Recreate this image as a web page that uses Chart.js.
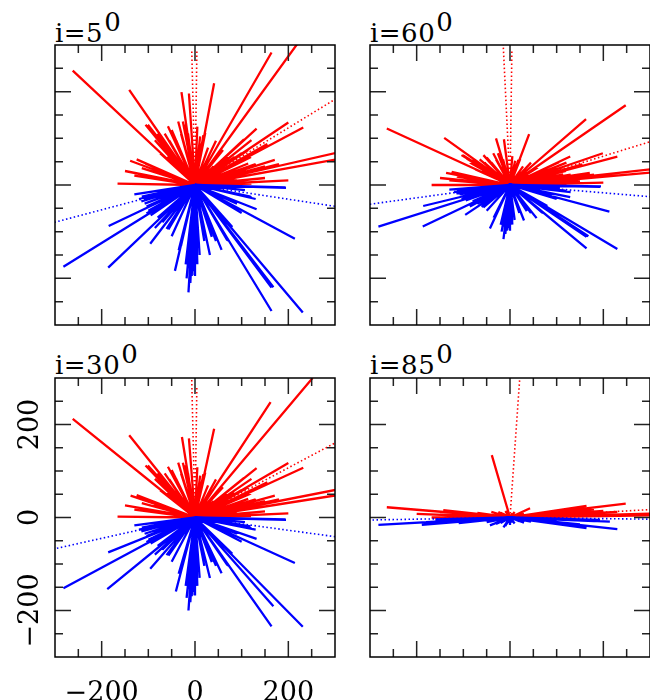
<!DOCTYPE html>
<html>
<head>
<meta charset="utf-8">
<script src="https://cdn.jsdelivr.net/npm/chart.js@4.4.1/dist/chart.umd.min.js"></script>
<style>
html, body { margin: 0; padding: 0; background: #fff; overflow: hidden; }
body { width: 650px; height: 700px; position: relative; }
.box { position: absolute; }
.ttl { position: absolute; font-family: "DejaVu Serif", serif; font-size: 26px; line-height: 26px;
       color: #000; letter-spacing: 0.5px; white-space: nowrap; }
.ttl span { position: relative; top: -11px; margin-left: 1px; }
</style>
</head>
<body>
<div class="ttl" style="left:55px;top:20px">i=5<span>0</span></div>
<div class="ttl" style="left:370px;top:20px">i=60<span>0</span></div>
<div class="ttl" style="left:55px;top:352px">i=30<span>0</span></div>
<div class="ttl" style="left:370px;top:352px">i=85<span>0</span></div>

<div class="box" style="left:50px;top:40px;width:290px;height:290px"><canvas id="p5"></canvas></div>
<div class="box" style="left:365px;top:40px;width:290px;height:290px"><canvas id="p60"></canvas></div>
<div class="box" style="left:0px;top:373px;width:340px;height:327px"><canvas id="p30"></canvas></div>
<div class="box" style="left:365px;top:373px;width:290px;height:289px"><canvas id="p85"></canvas></div>

<script>
// axis ticks (same on every panel)
var tickValues = [-250, -200, -150, -100, -50, 0, 50, 100, 150, 200, 250];
var labelTicks = [-200, 0, 200];

// end points of the rays, i = 5 deg
var red5 = [[-262,245],[-141,204],[-29,199],[-13,196],[41,218],[164,284],[248,342],
  [200,134],[232,123],[132,121],[121,96],[114,75],[100,68],[171,54],[114,46],[129,32],[93,25],[96,30],
  [330,75],[330,60],[-139,52],[-107,46],[-114,36],[-166,3],[121,3],[60,3],
  [-106,129],[-93,114],[-101,129],[-86,96],[-75,68],[-58,126],[-46,104],[-36,136],[-26,136],
  [18,107],[22,112],[11,104],[-60,60],[-90,30],[70,60],[105,98],[40,40],
  [-80,110],[-70,95],[-50,118],[-40,95],[-20,130],[-15,110],[5,125],[28,80],[45,95],[60,75],
  [85,60],[140,75],[155,88],[120,60],[180,45],[-125,55],[-150,30],[-130,20],[-100,20],[150,15],
  [200,10],[90,15],[150,40],[110,30],[130,45],[80,25],[-65,110],[-55,95],[-30,110],[10,90]];
var redDot5 = [[-7,291],[4,286],[335,205]];
var blue5 = [[194,-5],[195,-6],[121,-26],[119,-25],[132,-52],[214,-115],[-282,-175],[-186,-177],
  [-185,-88],[-96,-126],[-86,-92],[-61,-94],[-57,-95],[-43,-184],[-14,-230],[-1,-193],[0,-195],
  [-14,-178],[-11,-161],[-8,-150],[32,-150],[57,-139],[69,-118],[71,-120],[164,-220],[168,-219],
  [164,-270],[231,-273],[-114,-25],[-110,-30],[-104,-46],[-104,-61],[-90,-50],[-80,-70],
  [107,-11],[36,-111],[-30,-130],[20,-120],
  [-120,-30],[-115,-35],[-108,-40],[-100,-55],[-95,-65],[-70,-80],[-50,-110],[-35,-140],
  [-20,-170],[-18,-200],[-10,-210],[-5,-175],[5,-170],[10,-150],[45,-120],[60,-100],[80,-90],
  [100,-60],[90,-40],[130,-30],[-60,-40],[-130,-20],[-4,-185],[-7,-195]];
var blueDot5 = [[335,-51],[-335,-89]];

// i = 60 deg
var red60 = [[-264,121],[-141,101],[-30,100],[-13,98],[41,109],[163,141],[248,171],
  [199,68],[230,61],[129,61],[121,48],[114,38],[100,34],[171,26],[114,23],[129,16],[93,13],[96,15],
  [330,37],[330,29],[-137,26],[-107,23],[-114,18],[-168,0],[121,0],[60,1],
  [-104,64],[-93,57],[-101,64],[-86,48],[-75,34],[-57,64],[-46,52],[-36,68],[-26,68],
  [18,54],[22,56],[11,52],[-60,30],[-90,15],[70,30],[105,49],[40,20],
  [-80,55],[-70,48],[-50,59],[-40,48],[-20,65],[-15,55],[5,62],[28,40],[45,48],[60,38],
  [85,30],[140,38],[155,44],[120,30],[180,22],[-125,28],[-150,15],[-130,10],[-100,10],[150,8],
  [200,5],[90,8],[150,20],[110,15],[130,22],[80,12],[-65,55],[-55,48],[-30,55],[10,45]];
var redDot60 = [[-16,330],[4,286],[330,102]];
var blue60 = [[193,-4],[195,-3],[121,-13],[119,-12],[129,-26],[213,-57],[-282,-89],[-187,-89],
  [-186,-45],[-96,-64],[-86,-46],[-61,-47],[-57,-48],[-43,-93],[-14,-116],[-1,-96],[0,-98],
  [-14,-89],[-11,-80],[-8,-75],[30,-76],[57,-71],[69,-59],[71,-60],[164,-111],[168,-110],
  [164,-136],[230,-137],[-114,-12],[-110,-15],[-104,-25],[-104,-31],[-90,-25],[-80,-35],
  [107,-6],[36,-56],[-30,-65],[20,-60],
  [-120,-15],[-115,-18],[-108,-20],[-100,-28],[-95,-33],[-70,-40],[-50,-55],[-35,-70],
  [-20,-85],[-18,-100],[-10,-105],[-5,-88],[5,-85],[10,-75],[45,-60],[60,-50],[80,-45],
  [100,-30],[90,-20],[130,-15],[-60,-20],[-130,-10],[-4,-92],[-7,-98]];
var blueDot60 = [[335,-28],[-335,-46]];

// i = 30 deg
var red30 = [[-262,212],[-141,177],[-28,173],[-13,170],[41,191],[162,248],[252,300],
  [200,117],[232,107],[132,106],[121,83],[114,65],[100,59],[171,47],[114,40],[129,28],[93,22],[96,26],
  [330,65],[330,52],[-138,47],[-107,40],[-114,31],[-166,2],[120,3],[60,3],
  [-106,112],[-93,99],[-101,112],[-86,83],[-75,59],[-58,109],[-46,90],[-36,118],[-26,118],
  [18,93],[22,97],[11,90],[-60,52],[-90,26],[70,52],[105,85],[40,35],
  [-80,95],[-70,82],[-50,102],[-40,82],[-20,113],[-15,95],[5,108],[28,69],[45,82],[60,65],
  [85,52],[140,65],[155,76],[120,52],[180,39],[-125,48],[-150,26],[-130,17],[-100,17],[150,13],
  [200,9],[90,13],[150,35],[110,26],[130,39],[80,22],[-65,95],[-55,82],[-30,95],[10,78]];
var redDot30 = [[-7,296],[4,284],[335,179]];
var blue30 = [[194,-4],[195,-5],[121,-23],[119,-19],[132,-46],[214,-98],[-282,-152],[-188,-154],
  [-186,-75],[-96,-110],[-86,-80],[-61,-81],[-57,-82],[-41,-159],[-14,-200],[-1,-167],[0,-168],
  [-14,-154],[-11,-139],[-8,-130],[32,-130],[57,-120],[69,-102],[71,-104],[168,-191],[164,-234],
  [231,-235],[-114,-22],[-110,-26],[-104,-40],[-104,-53],[-90,-43],[-80,-61],[107,-10],
  [36,-96],[-30,-113],[20,-104],
  [-120,-26],[-115,-30],[-108,-35],[-100,-48],[-95,-56],[-70,-69],[-50,-95],[-35,-121],
  [-20,-147],[-18,-173],[-10,-182],[-5,-152],[5,-147],[10,-130],[45,-104],[60,-87],[80,-78],
  [100,-52],[90,-35],[130,-26],[-60,-35],[-130,-17],[-4,-160],[-7,-169]];
var blueDot30 = [[335,-46],[-335,-75]];

// i = 85 deg
var red85 = [[-39,134],[-264,22],[-141,15],[-143,16],[-168,0],[-120,12],[-100,10],[-60,8],[-40,12],
  [-20,10],[-10,14],[10,12],[43,20],[30,8],[80,10],[121,4],[164,25],[248,30],[200,14],[230,12],
  [330,9],[-80,6],[-30,5],[60,5],
  [-200,8],[-150,6],[-110,4],[-70,10],[-50,6],[-25,12],[-15,8],[-5,11],[5,9],[15,6],[25,10],
  [50,8],[100,14],[140,10],[180,18],[120,8],[90,4],[-130,2],[-90,3],[330,5]];
var redDot85 = [[23,330],[335,19]];
var blue85 = [[-282,-16],[-189,-16],[-150,-12],[-100,-10],[-43,-17],[-14,-21],[-20,-12],[-8,-15],
  [5,-10],[20,-8],[60,-6],[100,-8],[164,-23],[230,-25],[214,-9],[193,-5],[140,-6],[-120,-6],[-60,-5],
  [-180,-10],[-140,-8],[-110,-12],[-80,-8],[-50,-10],[-30,-14],[-10,-18],[-4,-12],[0,-16],[10,-13],
  [30,-11],[45,-9],[80,-10],[120,-12],[150,-15],[180,-8],[-160,-4],[-90,-3]];
var blueDot85 = [[-335,-6],[335,-4]];

Chart.defaults.animation = false;

function rays(ends){
    var data = [];
    for(var e of ends){
        data.push({x: 0, y: 0});
        data.push({x: e[0], y: e[1]});
        data.push({x: e[0], y: null});
    }
    return data;
}

// box round the plot and inward ticks, placed with the chart's own scales
var frame = {
    id: 'frame',
    afterDatasetsDraw: function(chart){
        var ctx = chart.ctx, a = chart.chartArea;
        var xs = chart.scales.x, ys = chart.scales.y;
        ctx.save();
        ctx.strokeStyle = '#222';
        ctx.lineWidth = 1.5;
        ctx.beginPath();
        for(var v of tickValues){
            var len = labelTicks.indexOf(v) >= 0 ? 16 : 8;
            var px = xs.getPixelForValue(v), py = ys.getPixelForValue(v);
            ctx.moveTo(px, a.bottom); ctx.lineTo(px, a.bottom - len);
            ctx.moveTo(px, a.top); ctx.lineTo(px, a.top + len);
            ctx.moveTo(a.left, py); ctx.lineTo(a.left + len, py);
            ctx.moveTo(a.right, py); ctx.lineTo(a.right - len, py);
        }
        ctx.stroke();
        ctx.strokeStyle = '#000';
        ctx.strokeRect(a.left, a.top, a.right - a.left, a.bottom - a.top);
        ctx.restore();
    }
};

function minus(v){
    return labelTicks.indexOf(v) >= 0 ? String(v).replace('-', '\u2212') : null;
}

function makePanel(id, red, redDot, blue, blueDot, labelled){
    function set(ends, colour, dotted){
        return {
            data: rays(ends),
            borderColor: colour,
            borderWidth: dotted ? 1.6 : 2.3,
            borderDash: dotted ? [1.5, 2.5] : [],
            showLine: true,
            spanGaps: false,
            pointRadius: 0,
            tension: 0
        };
    }
    var font = {family: '"DejaVu Serif", serif', size: 27};
    var x = {type: 'linear', min: -300, max: 300, display: false};
    var y = {type: 'linear', min: -300, max: 300, display: false};
    var padding = {top: 5, right: 5, bottom: 5, left: 5};
    if(labelled){
        x = {type: 'linear', min: -300, max: 300,
             grid: {display: false}, border: {display: false},
             ticks: {stepSize: 100, callback: minus, font: font, color: '#000', padding: 13,
                     autoSkip: false, maxRotation: 0},
             afterFit: function(s){ s.height = 43; }};
        y = {type: 'linear', min: -300, max: 300,
             grid: {display: false}, border: {display: false},
             ticks: {stepSize: 100, callback: minus, font: font, color: '#000', padding: -21,
                     autoSkip: false, minRotation: 90, maxRotation: 90, crossAlign: 'center'},
             afterFit: function(s){ s.width = 55; }};
        padding = {top: 5, right: 5, bottom: 0, left: 0};
    }
    // first dataset is painted last, so blue sits over red as in the original
    return new Chart(document.getElementById(id), {
        type: 'scatter',
        data: {
            datasets: [
                set(blue, 'rgb(0,0,255)', false),
                set(blueDot, 'rgb(0,0,255)', true),
                set(red, 'rgb(255,0,0)', false),
                set(redDot, 'rgb(255,0,0)', true)
            ]
        },
        options: {
            responsive: true,
            maintainAspectRatio: false,
            layout: {padding: padding},
            plugins: {legend: {display: false}, tooltip: {enabled: false}},
            scales: {x: x, y: y}
        },
        plugins: [frame]
    });
}

window.onload = function(){
    makePanel('p5', red5, redDot5, blue5, blueDot5, false);
    makePanel('p60', red60, redDot60, blue60, blueDot60, false);
    makePanel('p30', red30, redDot30, blue30, blueDot30, true);
    makePanel('p85', red85, redDot85, blue85, blueDot85, false);
};
</script>
</body>
</html>
